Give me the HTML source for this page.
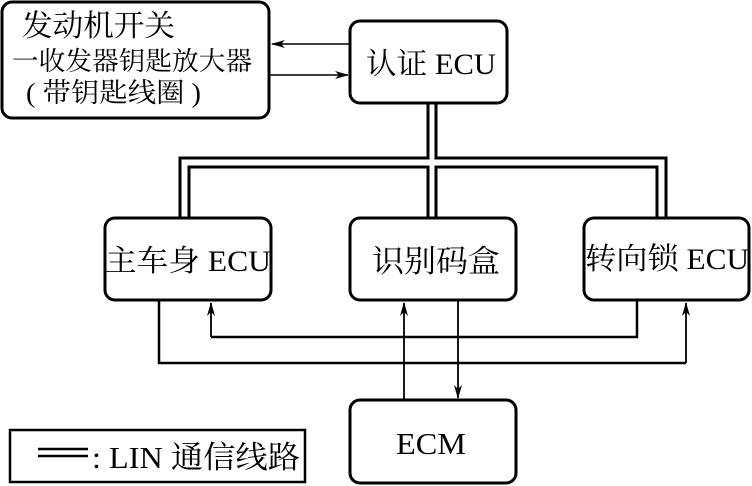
<!DOCTYPE html>
<html><head><meta charset="utf-8"><style>
html,body{margin:0;padding:0;background:#fff;}
svg{display:block;}
text{font-family:"Liberation Serif","Noto Serif CJK SC","Noto Sans CJK SC",serif;fill:#000;}
</style></head><body>
<svg width="752" height="486" viewBox="0 0 752 486" xmlns="http://www.w3.org/2000/svg">
<defs>
<marker id="a" markerWidth="14" markerHeight="8" refX="13" refY="4" orient="auto" markerUnits="userSpaceOnUse">
<path d="M0,0 L14,4 L0,8 L4,4 Z" fill="#000"/></marker>
</defs>
<g fill="none" stroke="#000" stroke-width="3">
<rect x="2" y="2" width="267" height="116" rx="10"/>
<rect x="350" y="21" width="157" height="82" rx="10"/>
<rect x="105" y="218" width="166" height="82" rx="10"/>
<rect x="350" y="218" width="166" height="82" rx="10"/>
<rect x="584" y="218" width="165" height="82" rx="10"/>
<rect x="350" y="400" width="166" height="83" rx="10"/>
<rect x="10" y="430" width="295" height="52" stroke-width="2.5"/>
<path d="M428,103 V158 H180 V218 M436,103 V158 H666 V218 M189,218 V167 H428 V218 M436,218 V167 H657 V218"/>
</g>
<g fill="none" stroke="#000" stroke-width="1.6">
<line x1="349" y1="44" x2="272" y2="44" marker-end="url(#a)"/>
<line x1="270" y1="75" x2="348" y2="75" marker-end="url(#a)"/>
</g>
<g fill="none" stroke="#000" stroke-width="2.5">
<path d="M159,301 V363 H686"/>
<path d="M637,301 V337 H211"/>
</g>
<g fill="none" stroke="#000" stroke-width="1.8">
<line x1="686" y1="363" x2="686" y2="303" marker-end="url(#a)"/>
<line x1="211" y1="337" x2="211" y2="303" marker-end="url(#a)"/>
<line x1="404" y1="400" x2="404" y2="303" marker-end="url(#a)"/>
<line x1="458" y1="301" x2="458" y2="398" marker-end="url(#a)"/>
</g>
<g stroke="#000" stroke-width="2.5"><line x1="38" y1="449" x2="88" y2="449"/><line x1="38" y1="456" x2="88" y2="456"/></g>
<text x="22" y="36" font-size="30" textLength="153" lengthAdjust="spacingAndGlyphs">发动机开关</text>
<text x="12" y="70" font-size="26" textLength="240" lengthAdjust="spacingAndGlyphs">一收发器钥匙放大器</text>
<text x="26" y="102" font-size="27" textLength="175" lengthAdjust="spacingAndGlyphs">( 带钥匙线圈 )</text>
<text x="366" y="74" font-size="30" textLength="130" lengthAdjust="spacingAndGlyphs">认证 ECU</text>
<text x="105" y="271" font-size="30" textLength="166" lengthAdjust="spacingAndGlyphs">主车身 ECU</text>
<text x="372" y="272" font-size="31" textLength="128" lengthAdjust="spacingAndGlyphs">识别码盒</text>
<text x="585" y="269" font-size="30" textLength="164" lengthAdjust="spacingAndGlyphs">转向锁 ECU</text>
<text x="396" y="454" font-size="31" textLength="70" lengthAdjust="spacingAndGlyphs">ECM</text>
<text x="92" y="468" font-size="31" textLength="208" lengthAdjust="spacingAndGlyphs">: LIN 通信线路</text>
</svg>
</body></html>
